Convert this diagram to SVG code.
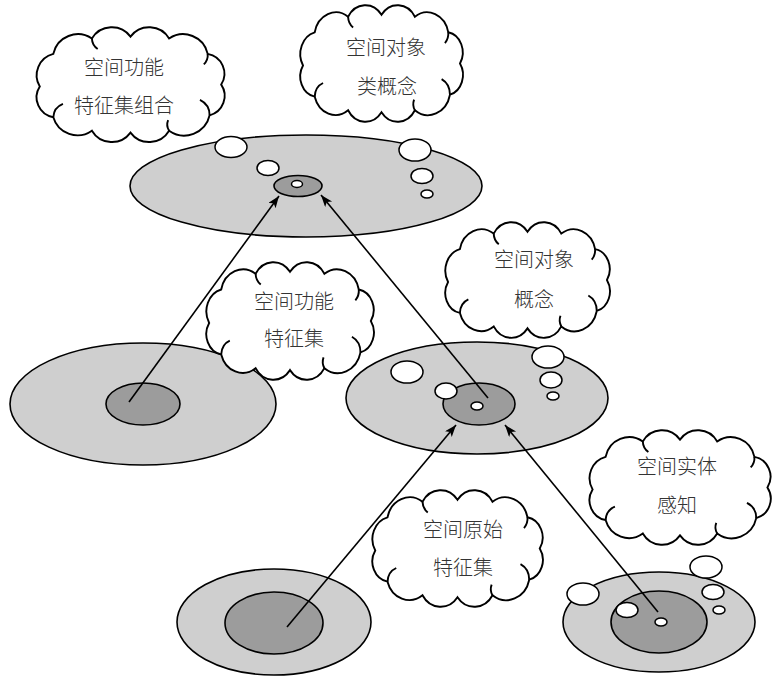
<svg xmlns="http://www.w3.org/2000/svg" xmlns:xlink="http://www.w3.org/1999/xlink" width="773" height="676" viewBox="0 0 773 676">
  <style>
    .outer { fill: #cfcfcf; stroke: #000; stroke-width: 1.6; }
    .inner { fill: #9c9c9c; stroke: #000; stroke-width: 1.6; }
    .bub { fill: #fff; stroke: #000; stroke-width: 1.5; }
    .cloud { fill: #fff; stroke: #000; stroke-width: 1.9; vector-effect: non-scaling-stroke; }
    .tick { fill: none; stroke: #000; stroke-width: 1.9; vector-effect: non-scaling-stroke; }
    .lbl { font-family: "Noto Sans CJK SC", "Noto Sans", sans-serif; font-size: 20px; font-weight: 300; fill: #333; text-anchor: middle; }
    .conn { fill: none; stroke: #000; stroke-width: 1.6; marker-end: url(#arrow); }
  </style>
  <defs>
    <marker id="arrow" markerUnits="userSpaceOnUse" markerWidth="13" markerHeight="10" refX="12" refY="4.5" orient="auto">
      <path d="M0,0 L12,4.5 L0,9 L3,4.5 z" fill="#000"/>
    </marker>
    <!-- cloud outline in a 200x120 box -->
    <g id="cloud">
      <path class="cloud" d="M6,62 A23,23 0 0 1 20,28 A26,26 0 0 1 60,12 A24,24 0 0 1 100,10 A24,24 0 0 1 140,12 A26,26 0 0 1 180,28 A21,21 0 0 1 194,60 A21,21 0 0 1 182,92 A27,27 0 0 1 140,108 A24,24 0 0 1 100,110 A24,24 0 0 1 60,108 A26,26 0 0 1 20,94 A21,21 0 0 1 6,62 Z"/>
      <path class="tick" d="M20,94 A16,16 0 0 1 30,80"/>
      <path class="tick" d="M182,92 A18,18 0 0 0 172,76"/>
      <path class="tick" d="M60,12 A14,14 0 0 0 66,23"/>
      <path class="tick" d="M140,108 A12,12 0 0 1 139,97"/>
      <path class="tick" d="M180,28 A14,14 0 0 1 176,39"/>
    </g>
  </defs>

  <rect width="773" height="676" fill="#fff"/>

  <!-- top level: combined feature set -->
  <g id="level-top">
    <ellipse class="outer" cx="306" cy="186" rx="176" ry="51"/>
    <ellipse class="bub" cx="231" cy="147" rx="16" ry="10.5"/>
    <ellipse class="bub" cx="268" cy="168" rx="11" ry="7.5"/>
    <ellipse class="bub" cx="415" cy="150" rx="16" ry="11"/>
    <ellipse class="bub" cx="422" cy="176" rx="11" ry="7.5"/>
    <ellipse class="bub" cx="427" cy="194" rx="6" ry="4"/>
    <ellipse class="inner" cx="298" cy="186" rx="24" ry="10.5"/>
    <ellipse class="bub" cx="297" cy="184" rx="5.5" ry="3.5"/>
  </g>

  <!-- middle left: functional feature set -->
  <g id="level-mid-left">
    <ellipse class="outer" cx="143" cy="404" rx="133" ry="61"/>
    <ellipse class="inner" cx="143" cy="404" rx="37" ry="21"/>
  </g>

  <!-- middle right: object concept -->
  <g id="level-mid-right">
    <ellipse class="outer" cx="477" cy="398" rx="131" ry="56"/>
    <ellipse class="bub" cx="407" cy="372" rx="16" ry="11"/>
    <ellipse class="bub" cx="548" cy="357" rx="16" ry="11"/>
    <ellipse class="bub" cx="551" cy="380" rx="11" ry="8"/>
    <ellipse class="bub" cx="553" cy="396" rx="6" ry="4"/>
    <ellipse class="inner" cx="479" cy="404" rx="36" ry="21"/>
    <ellipse class="bub" cx="446" cy="391" rx="11" ry="8"/>
    <ellipse class="bub" cx="477" cy="406" rx="6" ry="4"/>
  </g>

  <!-- bottom left: raw feature set -->
  <g id="level-bottom-left">
    <ellipse class="outer" cx="274" cy="622" rx="97" ry="53"/>
    <ellipse class="inner" cx="274" cy="623" rx="49" ry="31"/>
  </g>

  <!-- bottom right: entity perception -->
  <g id="level-bottom-right">
    <ellipse class="outer" cx="659" cy="622" rx="96" ry="50"/>
    <ellipse class="bub" cx="583" cy="594" rx="16" ry="11"/>
    <ellipse class="bub" cx="706" cy="567" rx="16" ry="11"/>
    <ellipse class="bub" cx="713" cy="592" rx="11" ry="7.5"/>
    <ellipse class="bub" cx="719" cy="610" rx="6" ry="4"/>
    <ellipse class="inner" cx="659" cy="622" rx="48" ry="31"/>
    <ellipse class="bub" cx="627" cy="610" rx="11" ry="7.5"/>
    <ellipse class="bub" cx="661" cy="622" rx="6" ry="4"/>
  </g>

  <!-- labels -->
  <g id="cloud-combo">
    <use xlink:href="#cloud" transform="translate(34,27) scale(0.965,0.96)"/>
    <text class="lbl" x="124" y="75">空间功能</text>
    <text class="lbl" x="124" y="113">特征集组合</text>
  </g>
  <g id="cloud-class">
    <use xlink:href="#cloud" transform="translate(298,5) scale(0.835,0.975)"/>
    <text class="lbl" x="386" y="55">空间对象</text>
    <text class="lbl" x="387" y="94">类概念</text>
  </g>
  <g id="cloud-func">
    <use xlink:href="#cloud" transform="translate(204,262) scale(0.86,0.983)"/>
    <text class="lbl" x="294" y="309">空间功能</text>
    <text class="lbl" x="294" y="346">特征集</text>
  </g>
  <g id="cloud-concept">
    <use xlink:href="#cloud" transform="translate(443,222) scale(0.845,0.967)"/>
    <text class="lbl" x="534" y="267">空间对象</text>
    <text class="lbl" x="534" y="307">概念</text>
  </g>
  <g id="cloud-entity">
    <use xlink:href="#cloud" transform="translate(587,430) scale(0.93,0.958)"/>
    <text class="lbl" x="677" y="474">空间实体</text>
    <text class="lbl" x="677" y="513">感知</text>
  </g>
  <g id="cloud-raw">
    <use xlink:href="#cloud" transform="translate(370,490) scale(0.875,0.975)"/>
    <text class="lbl" x="463" y="537">空间原始</text>
    <text class="lbl" x="463" y="575">特征集</text>
  </g>

  <!-- connectors -->
  <g id="connectors">
    <line class="conn" x1="129" y1="402" x2="279" y2="196"/>
    <line class="conn" x1="488" y1="398" x2="321" y2="195"/>
    <line class="conn" x1="287" y1="627" x2="456" y2="425"/>
    <line class="conn" x1="658" y1="612" x2="505" y2="425"/>
  </g>
</svg>
